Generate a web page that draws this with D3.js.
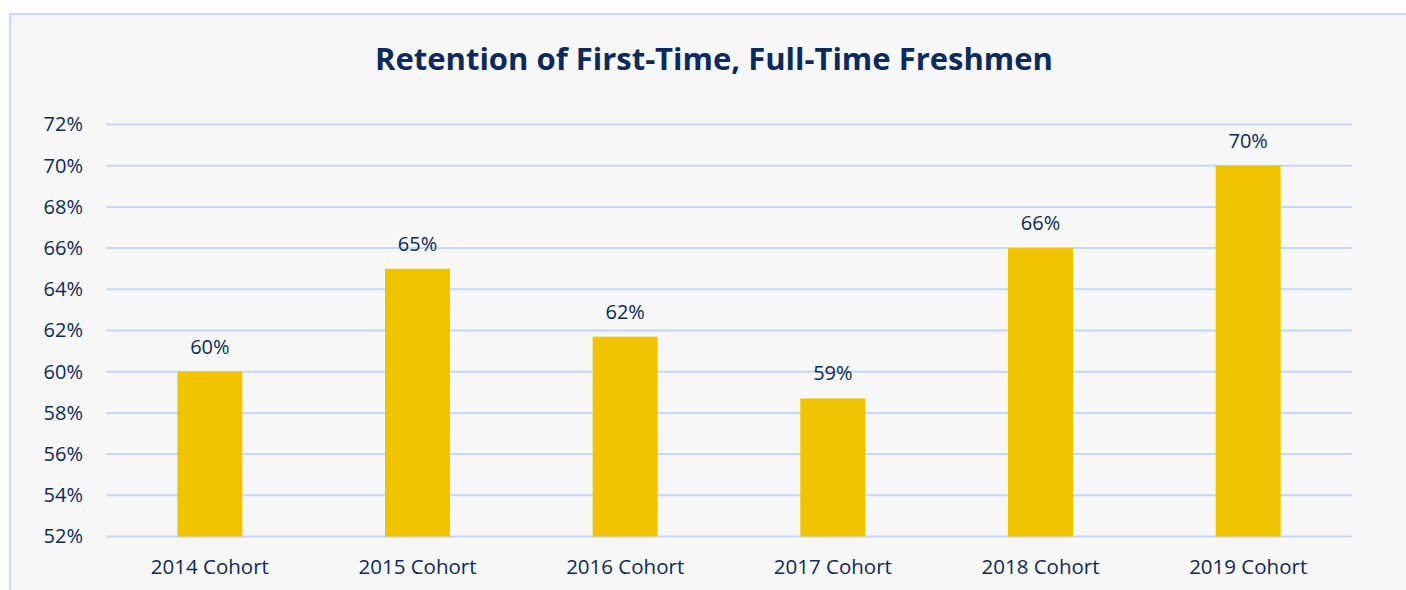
<!DOCTYPE html>
<html>
<head>
<meta charset="utf-8">
<script src="https://cdn.jsdelivr.net/npm/d3@7"></script>
<style>
  body { margin: 0; background: #ffffff; }
  svg { display: block; }
  text { font-family: "Open Sans", sans-serif; fill: #0c2a5c; }
</style>
</head>
<body>
<svg width="1406" height="590"></svg>
<script>
// chart data
let cohorts = ['2014 Cohort', '2015 Cohort', '2016 Cohort', '2017 Cohort', '2018 Cohort', '2019 Cohort'];
let retention = [60.0, 65.0, 61.7, 58.7, 66.0, 70.0];
let yTicks = [52, 54, 56, 58, 60, 62, 64, 66, 68, 70, 72];
let title = 'Retention of First-Time, Full-Time Freshmen';

let svg = d3.select('svg');
let margin = { top: 124.5, bottom: 53.5, left: 106, right: 54 };
let width = 1406, height = 590;
let innerWidth = width - margin.left - margin.right;
let innerHeight = height - margin.top - margin.bottom;

// panel background + border
svg.append('rect')
    .attr('x', 10).attr('y', 14)
    .attr('width', 1420).attr('height', 600)
    .style('fill', '#f7f7f7')
    .style('stroke', '#c4d8fa')
    .style('stroke-width', 2);

svg.append('text')
    .attr('x', 714)
    .attr('y', 70)
    .attr('text-anchor', 'middle')
    .style('font-size', '31px')
    .style('font-weight', 'bold')
    .text(title);

const g = svg.append('g')
    .attr('transform', 'translate(' + margin.left + ',' + margin.top + ')');

const xScale = d3.scaleBand()
    .domain(cohorts)
    .range([0, innerWidth])
    .paddingInner(0.687)
    .paddingOuter(0.3435);

const yScale = d3.scaleLinear()
    .domain([52, 72])
    .range([innerHeight, 0]);

// gridlines
g.selectAll('.grid')
    .data(yTicks)
    .enter()
    .append('line')
    .attr('x1', 0)
    .attr('x2', innerWidth)
    .attr('y1', d => yScale(d))
    .attr('y2', d => yScale(d))
    .style('stroke', '#c4d8fa')
    .style('stroke-width', 2);

// y axis labels
const yAxis = d3.axisLeft(yScale)
    .tickValues(yTicks)
    .tickSize(0)
    .tickPadding(23)
    .tickFormat(d => d + '%');
const yg = g.append('g').call(yAxis);
yg.select('.domain').remove();
yg.selectAll('text')
    .style('font-size', '20px')
    .style('font-family', '"Open Sans", sans-serif')
    .style('fill', '#0c2a5c');

// x axis labels
const xAxis = d3.axisBottom(xScale).tickSize(0).tickPadding(23);
const xg = g.append('g')
    .attr('transform', `translate(0,${innerHeight})`)
    .call(xAxis);
xg.select('.domain').remove();
xg.selectAll('text')
    .style('font-size', '20.5px')
    .style('font-family', '"Open Sans", sans-serif')
    .style('fill', '#0c2a5c');

let data = cohorts.map((c, i) => ({ cohort: c, value: retention[i] }));

// bars
g.selectAll('.bar')
    .data(data)
    .enter()
    .append('rect')
    .attr('x', d => xScale(d.cohort))
    .attr('y', d => yScale(d.value))
    .attr('width', xScale.bandwidth())
    .attr('height', d => innerHeight - yScale(d.value))
    .style('fill', '#f0c400');

// value labels
g.selectAll('.label')
    .data(data)
    .enter()
    .append('text')
    .attr('x', d => xScale(d.cohort) + xScale.bandwidth() / 2)
    .attr('y', d => yScale(d.value) - 18)
    .attr('text-anchor', 'middle')
    .style('font-size', '20px')
    .text(d => Math.round(d.value) + '%');
</script>
</body>
</html>
